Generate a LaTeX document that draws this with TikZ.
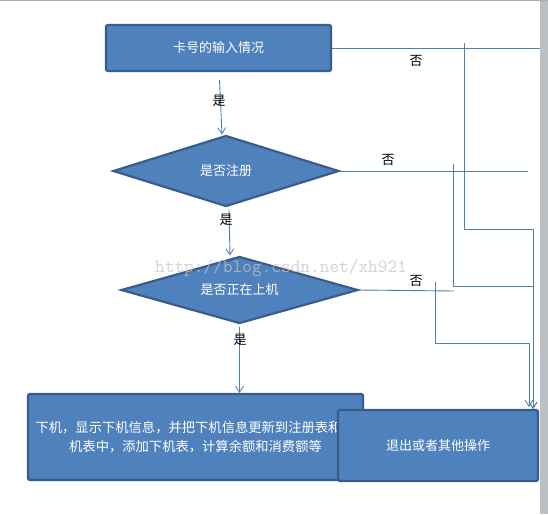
\documentclass[tikz,border=0pt]{standalone}
\usepackage{fontspec}
\newfontfamily\cjk{Noto Sans CJK SC}
\usetikzlibrary{shapes.geometric,arrows.meta}
\definecolor{boxfill}{HTML}{4F81BD}
\definecolor{boxline}{HTML}{385D8A}
\definecolor{conn}{HTML}{5080A8}
\definecolor{framegray}{HTML}{BCC0C4}
\definecolor{wmgray}{HTML}{C4C4C4}
\tikzset{
  flowbox/.style={rectangle, rounded corners=1.5pt, draw=boxline, line width=2.2pt, fill=boxfill,
    text=white, font=\cjk\fontsize{13}{19}\selectfont, inner sep=0pt, align=center},
  decision/.style={diamond, aspect=3.5, draw=boxline, line width=2.2pt, fill=boxfill, text=white,
    font=\cjk\fontsize{13}{15}\selectfont, inner sep=0pt},
  connline/.style={draw=conn, line width=0.9pt},
  connarrow/.style={connline, -{Straight Barb[length=6pt,width=8pt,line width=0.8pt]}},
  yesno/.style={font=\cjk\fontsize{13}{15}\selectfont, text=black, inner sep=0pt}
}
\begin{document}
\begin{tikzpicture}[x=1pt,y=-1pt]
\useasboundingbox (0,0) rectangle (548,514);
\fill[white] (0,0) rectangle (548,514);
\fill[framegray] (540,0) rectangle (548,514);
\fill[framegray!90!black] (0,0) rectangle (548,1.2);

% nodes
\node[flowbox, minimum width=225pt, minimum height=46pt] (box1) at (218.5,48) {卡号的输入情况};
\node[decision, minimum width=226pt, minimum height=71pt] (d1) at (226,171) {是否注册};
\node[decision, minimum width=237pt, minimum height=67pt] (d2) at (239.5,290) {是否正在上机};
\node[flowbox, minimum width=335pt, minimum height=86pt, font=\cjk\fontsize{13.3}{19}\selectfont] (box3) at (195.5,437)
  {下机，显示下机信息，并把下机信息更新到注册表和\hspace*{14pt}\\机表中，添加下机表，计算余额和消费额等};
\node[flowbox, minimum width=200pt, minimum height=71pt] (box4) at (438,445.5) {退出或者其他操作};

% yes arrows
\draw[connarrow] ([xshift=1pt,yshift=-8pt]box1.south) -- ([xshift=-4pt]d1.north);
\draw[connarrow] ([xshift=3pt,yshift=-2pt]d1.south) -- ([xshift=-9.5pt]d2.north);
\draw[connarrow] ([yshift=-2pt]d2.south) -- (d2.south |- box3.north);
\node[yesno] (yes1) at (219,101) {是};
\node[yesno] (yes2) at (226,220) {是};
\node[yesno] (yes3) at (240,340) {是};

% no lines
\coordinate (e1) at (540,48);
\coordinate (e2) at (528,171);
\coordinate (e3) at (454,291);
\draw[connline] (box1.east) -- (e1);
\draw[connline] (d1.east) -- (e2);
\draw[connline] (d2.east) -- (e3);

\coordinate (v1t) at (464,43);
\coordinate (v1b) at (464,229);
\coordinate (v1r) at (533,229);
\coordinate (v2t) at (453,164);
\coordinate (v2b) at (453,286);
\coordinate (v2r) at (533,286);
\coordinate (v3t) at (435,282);
\coordinate (v3b) at (435,343);
\coordinate (v3r) at (529,343);
\draw[connarrow] (v1t) -- (v1b) -- (v1r) -- (v1r |- box4.north);
\draw[connarrow] (v2t) -- (v2b) -- (v2r) -- (v2r |- box4.north);
\draw[connarrow] (v3t) -- (v3b) -- (v3r) -- ([yshift=2pt]v3r |- box4.north);

\node[yesno] (no1) at (416,61) {否};
\node[yesno] (no2) at (388,160) {否};
\node[yesno] (no3) at (416,281) {否};

% watermark
\node[anchor=base west, inner sep=0pt, text=wmgray, opacity=0.75,
  font=\ttfamily\fontsize{18.8}{20}\selectfont] (wm) at (155,272) {http://blog.csdn.net/xh921};
\end{tikzpicture}
\end{document}
